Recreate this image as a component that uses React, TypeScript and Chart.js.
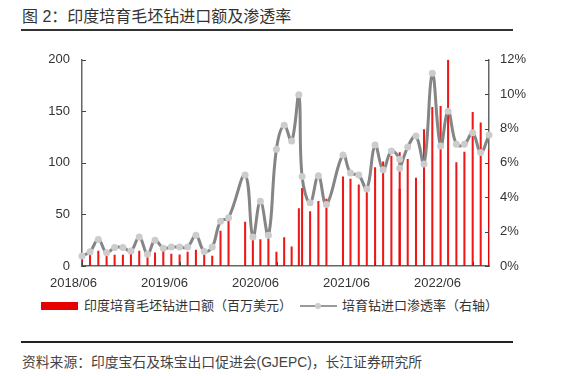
import React, { useEffect, useRef } from 'react';
import { Chart, registerables } from 'chart.js';

Chart.register(...registerables);

// ---- data ----
const dates = [
  '2018-06-01', '2018-07-01', '2018-08-01', '2018-09-01', '2018-10-01', '2018-11-01', '2018-12-01',
  '2019-01-01', '2019-02-01', '2019-03-01', '2019-04-01', '2019-05-01', '2019-06-01', '2019-07-01',
  '2019-08-01', '2019-09-01', '2019-10-01', '2019-11-01', '2019-12-01',
  '2020-02-01', '2020-03-01', '2020-03-29', '2020-04-28', '2020-05-28', '2020-06-26', '2020-07-24',
  '2020-08-20', '2020-09-01', '2020-10-01', '2020-11-01', '2020-12-01',
  '2021-02-01', '2021-03-01', '2021-04-01', '2021-05-01', '2021-06-01', '2021-07-01', '2021-08-01',
  '2021-09-01', '2021-09-01', '2021-10-01', '2021-11-01', '2021-12-01',
  '2022-01-01', '2022-02-01', '2022-03-01', '2022-04-01', '2022-05-01', '2022-06-01', '2022-07-01',
  '2022-08-01',
];

// 印度培育毛坯钻进口额（百万美元）
const importValues = [
  9, 10.6, 14.4, 10, 10.6, 10.6, 11.5,
  14.4, 8.3, 12.8, 14.7, 11.5, 10.9, 13.5,
  15.4, 10.6, 9.6, 33.8, 43.6,
  42.6, 26, 25.6, 26.6, 13.5, 27.6, 18.6,
  55.7, 75.3, 52.9, 62.8, 64.8,
  86.5, 84.3, 78.8, 74.7, 95.5, 101, 106.7,
  110, 74.7, 103.5, 85.3, 132.4,
  153.8, 154.8, 200, 100.3, 110.6, 149, 138.8,
  113,
];

// 培育钻进口渗透率（%，右轴）
const penetrationRates = [
  0.58, 0.83, 1.54, 0.77, 1.08, 1.08, 0.87,
  1.69, 0.69, 1.5, 1.04, 1.1, 1.1, 1.11,
  1.79, 0.85, 1.1, 2.61, 2.81,
  5.29, 1.69, 3.77, 1.79, 6.79, 8.19, 7.27,
  9.97, 5.21, 3.68, 5.25, 3.58,
  6.46, 5.41, 5.29, 4.48, 7.04, 5.6, 6.69,
  6.21, 5.69, 6.92, 7.56, 5.93,
  11.21, 6.98, 9.0, 7.08, 7.08, 7.75, 6.6,
  7.62,
];

const xTickLabels = ['2018/06', '2019/06', '2020/06', '2021/06', '2022/06'];
const leftTickValues = [0, 50, 100, 150, 200];
const rightTickValues = [0, 2, 4, 6, 8, 10, 12];

const barLabel = '印度培育毛坯钻进口额（百万美元）';
const lineLabel = '培育钻进口渗透率（右轴）';
const titleText = '图 2：印度培育毛坯钻进口额及渗透率';
const sourceText = '资料来源：印度宝石及珠宝出口促进会(GJEPC)，长江证券研究所';

// ---- helpers ----
const DAY_MS = 86400000;
const toDay = (s: string): number => {
  const [y, m, d] = s.split(/[-/]/).map(Number);
  return Date.UTC(y, m - 1, d || 1) / DAY_MS;
};

const xDays = dates.map(toDay);
const yearTickDays = xTickLabels.map(toDay);

const FONT = '"Liberation Sans", Arial, "Noto Sans CJK SC", sans-serif';
const AXIS_COLOR = '#666666';
const BAR_COLOR = '#E60000';

const innerTicks = {
  id: 'innerTicks',
  afterDatasetsDraw(chart: any) {
    const { ctx, chartArea, scales } = chart;
    const len = 4;
    ctx.save();
    ctx.strokeStyle = '#444';
    ctx.lineWidth = 1;
    ctx.beginPath();
    leftTickValues.forEach((v) => {
      const py = Math.round(scales.y.getPixelForValue(v)) + 0.5;
      ctx.moveTo(chartArea.left, py);
      ctx.lineTo(chartArea.left + len, py);
    });
    rightTickValues.forEach((v) => {
      const py = Math.round(scales.y1.getPixelForValue(v)) + 0.5;
      ctx.moveTo(chartArea.right, py);
      ctx.lineTo(chartArea.right - len, py);
    });
    yearTickDays.forEach((d) => {
      const px = Math.round(scales.x.getPixelForValue(d)) + 0.5;
      ctx.moveTo(px, chartArea.bottom);
      ctx.lineTo(px, chartArea.bottom - len);
    });
    ctx.stroke();
    ctx.restore();
  },
};

function ChartCanvas() {
  const ref = useRef<HTMLCanvasElement | null>(null);

  useEffect(() => {
    if (!ref.current) return;
    Chart.defaults.font.family = FONT;
    Chart.defaults.font.size = 13;
    Chart.defaults.color = '#333333';

    const barData = xDays.map((x, i) => ({ x, y: importValues[i] }));
    const lineData = xDays.map((x, i) => ({ x, y: penetrationRates[i] }));

    const chart = new Chart(ref.current, {
      type: 'bar',
      data: {
        datasets: [
          {
            type: 'line',
            label: lineLabel,
            data: lineData,
            xAxisID: 'x',
            yAxisID: 'y1',
            borderColor: '#858585',
            borderWidth: 3,
            tension: 0.4,
            pointRadius: 3.5,
            pointBackgroundColor: '#CCCCCC',
            pointBorderWidth: 0,
            clip: false,
            order: 0,
          } as any,
          {
            type: 'bar',
            label: barLabel,
            data: barData,
            xAxisID: 'x',
            yAxisID: 'y',
            backgroundColor: 'rgba(235, 0, 0, 0.9)',
            barThickness: 1.4,
            grouped: false,
            order: 1,
          } as any,
        ],
      },
      options: {
        animation: false,
        responsive: false,
        devicePixelRatio: 1,
        layout: { padding: { top: 18, left: 0, right: 0, bottom: 0 } },
        plugins: { legend: { display: false }, tooltip: { enabled: false } },
        scales: {
          x: {
            type: 'linear',
            display: false,
            offset: false,
            min: Math.min(...xDays),
            max: Math.max(...xDays),
          },
          xl: {
            type: 'linear',
            position: 'bottom',
            offset: false,
            bounds: 'data',
            min: 0.0934,
            max: 4.566,
            grid: { display: false, drawTicks: false, offset: false },
            border: { display: true, color: AXIS_COLOR, width: 1.5 },
            afterBuildTicks: (s: any) => {
              s.ticks = xTickLabels.map((_, i) => ({ value: i }));
            },
            afterFit: (s: any) => {
              s.height = 30;
            },
            ticks: {
              autoSkip: false,
              maxRotation: 0,
              padding: 10,
              color: '#333',
              font: { size: 13 },
              callback: (_v: any, i: number) => xTickLabels[i],
            },
          },
          y: {
            type: 'linear',
            position: 'left',
            min: 0,
            max: 200,
            grid: { display: false, drawTicks: false },
            border: { display: true, color: AXIS_COLOR, width: 1.5 },
            afterFit: (s: any) => {
              s.width = 82;
            },
            afterBuildTicks: (s: any) => {
              s.ticks = leftTickValues.map((v) => ({ value: v }));
            },
            ticks: { padding: 12, color: '#333', font: { size: 13 } },
          },
          y1: {
            type: 'linear',
            position: 'right',
            min: 0,
            max: 12,
            grid: { display: false, drawTicks: false },
            border: { display: true, color: AXIS_COLOR, width: 1.5 },
            afterFit: (s: any) => {
              s.width = 79;
            },
            afterBuildTicks: (s: any) => {
              s.ticks = rightTickValues.map((v) => ({ value: v }));
            },
            ticks: {
              padding: 11,
              color: '#333',
              font: { size: 13 },
              callback: (v: any) => `${v}%`,
            },
          },
        },
      },
      plugins: [innerTicks],
    } as any);

    return () => chart.destroy();
  }, []);

  return <canvas ref={ref} width={568} height={256} style={{ display: 'block', width: 568, height: 256 }} />;
}

export default function App() {
  return (
    <div
      style={{
        position: 'fixed',
        left: 0,
        top: 0,
        width: 568,
        height: 376,
        background: '#ffffff',
        fontFamily: FONT,
        color: '#333',
        overflow: 'hidden',
      }}
    >
      <div style={{ position: 'absolute', left: 22, top: 7, fontSize: 16, lineHeight: '19px', color: '#333', whiteSpace: 'nowrap' }}>
        {titleText}
      </div>
      <div style={{ position: 'absolute', left: 21, top: 29, width: 492, height: 2, background: '#333' }} />

      <div style={{ position: 'absolute', left: 0, top: 40, width: 568, height: 256 }}>
        <ChartCanvas />
      </div>

      {/* legend */}
      <div style={{ position: 'absolute', left: 41, top: 302, width: 37, height: 8, background: BAR_COLOR }} />
      <div style={{ position: 'absolute', left: 84, top: 297, fontSize: 13, lineHeight: '18px', whiteSpace: 'nowrap' }}>
        {barLabel}
      </div>
      <div style={{ position: 'absolute', left: 300, top: 305, width: 37, height: 2, background: '#9a9a9a' }} />
      <div
        style={{ position: 'absolute', left: 315, top: 303, width: 6, height: 6, borderRadius: 3, background: '#cccccc' }}
      />
      <div style={{ position: 'absolute', left: 342, top: 297, fontSize: 13, lineHeight: '18px', whiteSpace: 'nowrap' }}>
        {lineLabel}
      </div>

      <div style={{ position: 'absolute', left: 21, top: 341, width: 492, height: 2, background: '#222' }} />
      <div style={{ position: 'absolute', left: 22, top: 354, fontSize: 13.8, lineHeight: '18px', color: '#444', whiteSpace: 'nowrap' }}>
        {sourceText}
      </div>
    </div>
  );
}
